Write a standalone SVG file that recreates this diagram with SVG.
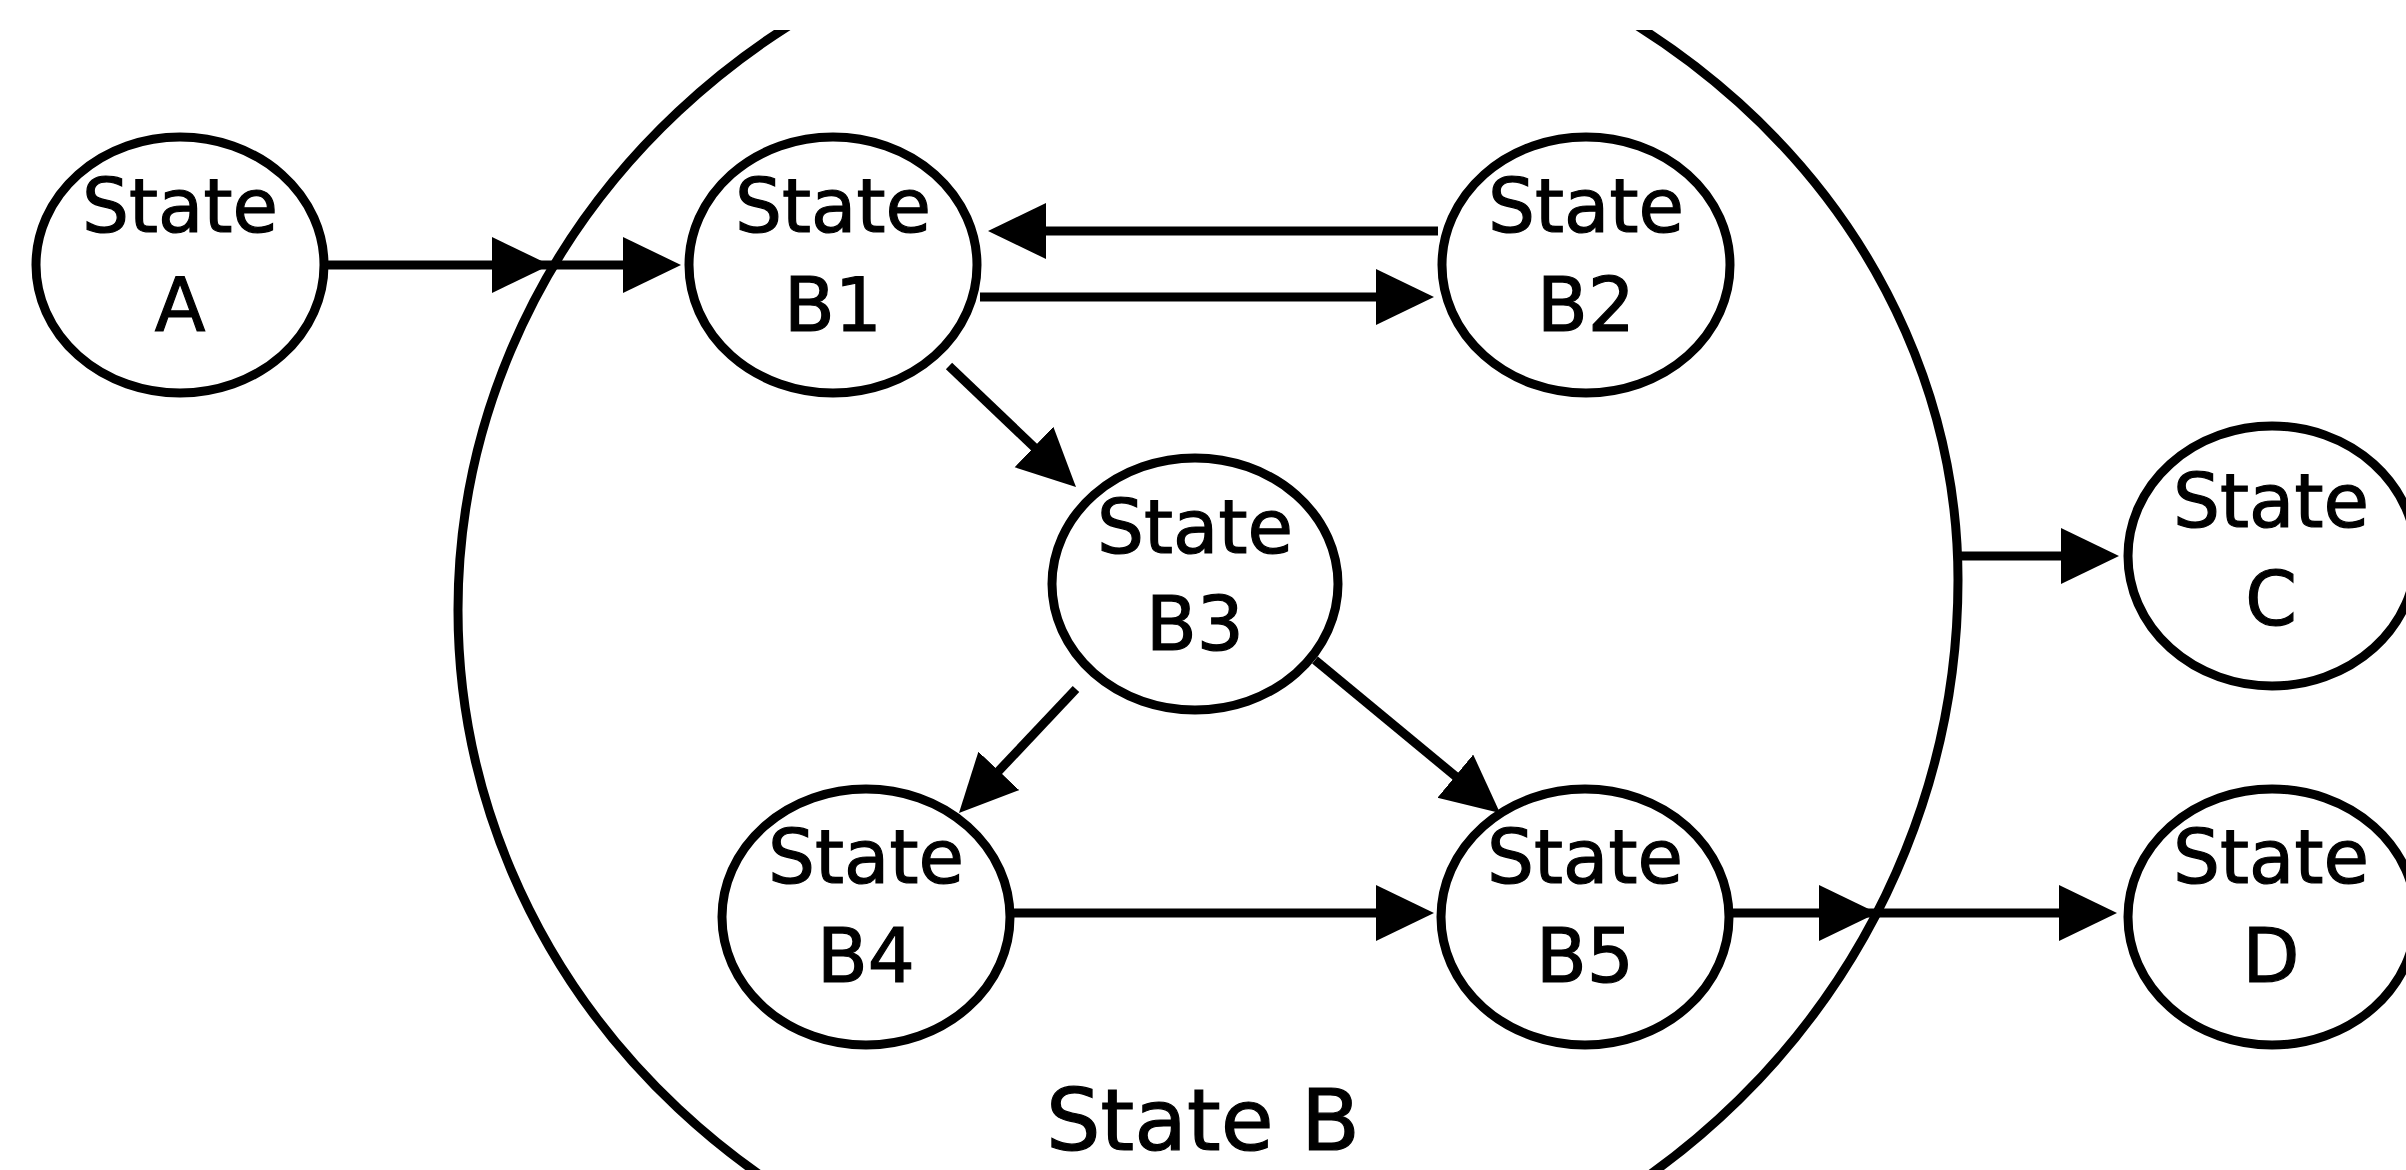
<svg xmlns="http://www.w3.org/2000/svg" width="2406" height="1170" viewBox="0 0 2406 1170">
  <style>
    .node { fill: #ffffff; stroke: #000000; stroke-width: 9; }
    .outer { fill: none; stroke: #000000; stroke-width: 9; }
    .lbl { font-family: "DejaVu Sans", "Liberation Sans", sans-serif; font-size: 74px; fill: #000000; stroke: #000000; stroke-width: 1.2; text-anchor: middle; }
    .big { font-family: "DejaVu Sans", "Liberation Sans", sans-serif; font-size: 86px; fill: #000000; stroke: #000000; stroke-width: 1.2; text-anchor: middle; }
    .edge { fill: none; stroke: #000000; stroke-width: 9; marker-end: url(#ah); }
  </style>
  <defs>
    <marker id="ah" markerUnits="userSpaceOnUse" markerWidth="60" markerHeight="58" refX="38" refY="28" orient="auto">
      <path d="M0,0 L58,28 L0,56 Z" fill="#000000"/>
    </marker>
    <clipPath id="frame">
      <rect x="0" y="30" width="2406" height="1140"/>
    </clipPath>
  </defs>
  <rect x="0" y="0" width="2406" height="1170" fill="#ffffff"/>

  <g id="stateB">
    <path class="outer" clip-path="url(#frame)" d="M1210,-95 A752,705 0 0 0 458,610 A752,705 0 0 0 1210,1315 A748,735 0 0 0 1958,580 A748,675 0 0 0 1210,-95 Z"/>
    <text class="big" x="1203" y="1150">State B</text>
  </g>

  <g id="stateA">
    <ellipse class="node" cx="180" cy="265" rx="144" ry="128"/>
    <text class="lbl" x="180" y="232">State</text>
    <text class="lbl" x="180" y="331">A</text>
  </g>
  <g id="stateB1">
    <ellipse class="node" cx="833" cy="265" rx="144" ry="128"/>
    <text class="lbl" x="833" y="232">State</text>
    <text class="lbl" x="833" y="331">B1</text>
  </g>
  <g id="stateB2">
    <ellipse class="node" cx="1586" cy="265" rx="144" ry="128"/>
    <text class="lbl" x="1586" y="232">State</text>
    <text class="lbl" x="1586" y="331">B2</text>
  </g>
  <g id="stateB3">
    <ellipse class="node" cx="1195" cy="584" rx="143" ry="126"/>
    <text class="lbl" x="1195" y="553">State</text>
    <text class="lbl" x="1195" y="650">B3</text>
  </g>
  <g id="stateB4">
    <ellipse class="node" cx="866" cy="917" rx="144" ry="128"/>
    <text class="lbl" x="866" y="883">State</text>
    <text class="lbl" x="866" y="982">B4</text>
  </g>
  <g id="stateB5">
    <ellipse class="node" cx="1585" cy="917" rx="144" ry="128"/>
    <text class="lbl" x="1585" y="883">State</text>
    <text class="lbl" x="1585" y="982">B5</text>
  </g>
  <g id="stateC">
    <ellipse class="node" cx="2272" cy="556" rx="144" ry="130"/>
    <text class="lbl" x="2271" y="527">State</text>
    <text class="lbl" x="2271" y="625">C</text>
  </g>
  <g id="stateD">
    <ellipse class="node" cx="2272" cy="917" rx="144" ry="128"/>
    <text class="lbl" x="2271" y="883">State</text>
    <text class="lbl" x="2271" y="982">D</text>
  </g>

  <g id="connectors">
    <path class="edge" d="M328,265 L530,265"/>
    <path class="edge" d="M530,265 L661,265"/>
    <path class="edge" d="M1438,231 L1008,231"/>
    <path class="edge" d="M980,297 L1414,297"/>
    <path class="edge" d="M949,366 L1061.5,473.2"/>
    <path class="edge" d="M1076,689 L972.7,798.5"/>
    <path class="edge" d="M1315,660 L1484.6,800.3"/>
    <path class="edge" d="M1013,913 L1414,913"/>
    <path class="edge" d="M1732,913 L1857,913"/>
    <path class="edge" d="M1857,913 L2097,913"/>
    <path class="edge" d="M1958,556 L2099,556"/>
  </g>
</svg>
